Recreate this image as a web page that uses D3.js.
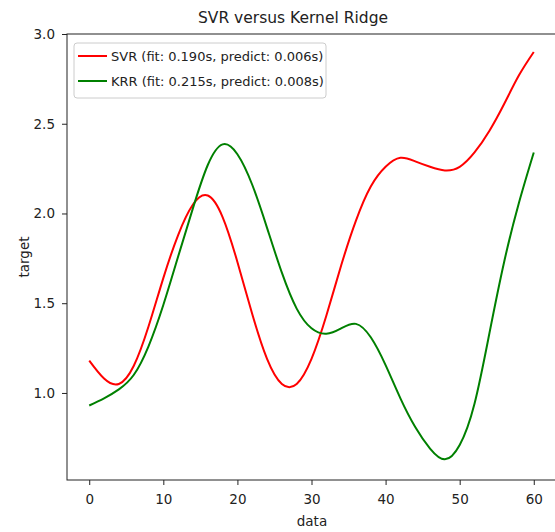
<!DOCTYPE html>
<html>
<head>
<meta charset="utf-8">
<script src="https://cdn.jsdelivr.net/npm/d3@7"></script>
<style>
body { margin: 0; background: #fff; }
svg text { font-family: "DejaVu Sans", sans-serif; fill: #222; }
</style>
</head>
<body>
<div id="container"></div>
<script>
// valores
var dados = [0, 2, 4, 6, 8, 10, 12, 14, 16, 18, 20, 22, 24, 26, 28, 30,
             32, 34, 36, 38, 40, 42, 44, 46, 48, 50, 52, 54, 56, 58, 60];
var svr = [1.18, 1.08, 1.05, 1.15, 1.37, 1.64, 1.88, 2.05, 2.10, 1.98, 1.73,
           1.44, 1.19, 1.05, 1.05, 1.19, 1.43, 1.71, 1.96, 2.15, 2.26, 2.31,
           2.29, 2.26, 2.24, 2.26, 2.34, 2.46, 2.61, 2.77, 2.90];
var krr = [0.93, 0.97, 1.02, 1.10, 1.26, 1.49, 1.76, 2.03, 2.27, 2.385, 2.33,
           2.16, 1.92, 1.67, 1.47, 1.36, 1.33, 1.36, 1.385, 1.31, 1.155, 0.97,
           0.81, 0.69, 0.63, 0.71, 0.94, 1.33, 1.73, 2.06, 2.34];
var xTicks = [0, 10, 20, 30, 40, 50, 60];
var yTicks = [1.0, 1.5, 2.0, 2.5, 3.0];
var series = [
    { nome: "SVR (fit: 0.190s, predict: 0.006s)", valores: svr, cor: "#ff0000" },
    { nome: "KRR (fit: 0.215s, predict: 0.008s)", valores: krr, cor: "#008000" }
];

var w = 555, h = 532;
var margemEsq = 67, margemDir = 556, margemSup = 34, margemInf = 480;

var svg = d3.select("#container").append("svg")
    .attr("width", w).attr("height", h);

var x = d3.scaleLinear().domain([-3, 63]).range([margemEsq, margemDir]);
var y = d3.scaleLinear().domain([0.515, 3.0]).range([margemInf, margemSup]);

// linhas
var linha = d3.line()
    .x(function(d, i) { return x(dados[i]); })
    .y(function(d) { return y(d); })
    .curve(d3.curveNatural);

svg.selectAll("path.serie")
    .data(series)
    .enter()
    .append("path")
    .attr("class", "serie")
    .attr("fill", "none")
    .attr("stroke", function(d) { return d.cor; })
    .attr("stroke-width", 2)
    .attr("d", function(d) { return linha(d.valores); });

// eixos
var eixoX = svg.append("g")
    .attr("transform", "translate(0," + margemInf + ")")
    .call(d3.axisBottom(x).tickValues(xTicks).tickSize(5).tickPadding(9)
        .tickFormat(d3.format("d")));
var eixoY = svg.append("g")
    .attr("transform", "translate(" + margemEsq + ",0)")
    .call(d3.axisLeft(y).tickValues(yTicks).tickSize(5).tickPadding(7)
        .tickFormat(d3.format(".1f")));

[eixoX, eixoY].forEach(function(g) {
    g.select(".domain").remove();
    g.selectAll(".tick line").attr("stroke", "#222");
    g.selectAll(".tick text").style("font-size", "13.5px")
        .style("font-family", "DejaVu Sans, sans-serif").attr("fill", "#222");
});

// bordas
svg.append("rect")
    .attr("x", margemEsq).attr("y", margemSup)
    .attr("width", margemDir - margemEsq).attr("height", margemInf - margemSup)
    .attr("fill", "none").attr("stroke", "#222").attr("stroke-width", 1);

// textos
svg.append("text")
    .attr("x", 293).attr("y", 23)
    .attr("text-anchor", "middle")
    .style("font-size", "15.5px")
    .text("SVR versus Kernel Ridge");

svg.append("text")
    .attr("x", 312).attr("y", 526)
    .attr("text-anchor", "middle")
    .style("font-size", "13.5px")
    .text("data");

svg.append("text")
    .attr("transform", "translate(29," + ((margemSup + margemInf) / 2) + ") rotate(-90)")
    .attr("text-anchor", "middle")
    .style("font-size", "13.5px")
    .text("target");

// legenda
var legenda = svg.append("g");
legenda.append("rect")
    .attr("x", 74).attr("y", 43)
    .attr("width", 252).attr("height", 55)
    .attr("rx", 3)
    .attr("fill", "#fff").attr("fill-opacity", 0.8)
    .attr("stroke", "#ccc");

var itens = legenda.selectAll("g.item")
    .data(series)
    .enter()
    .append("g")
    .attr("class", "item")
    .attr("transform", function(d, i) { return "translate(0," + (56 + i * 25) + ")"; });

itens.append("line")
    .attr("x1", 78).attr("x2", 107)
    .attr("stroke", function(d) { return d.cor; })
    .attr("stroke-width", 2);

itens.append("text")
    .attr("x", 111).attr("y", 5)
    .style("font-size", "13px")
    .text(function(d) { return d.nome; });
</script>
</body>
</html>
